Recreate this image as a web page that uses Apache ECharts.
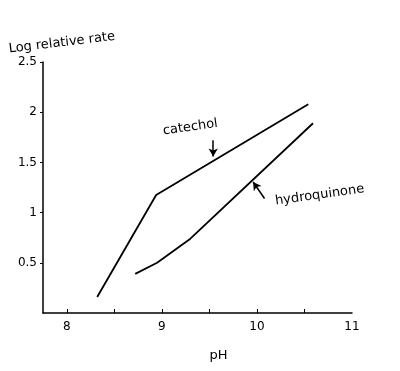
<!DOCTYPE html>
<html>
<head>
<meta charset="utf-8">
<script src="https://cdn.jsdelivr.net/npm/echarts@6/dist/echarts.min.js"></script>
<style>
html,body{margin:0;padding:0;background:#fff;}
#chart{width:400px;height:371px;}
</style>
</head>
<body>
<div id="chart"></div>
<script>
// Data
const catecholPH  = [8.32, 8.94, 10.54];
const catecholLog = [0.16, 1.175, 2.08];
const hydroPH     = [8.72, 8.95, 9.30, 10.59];
const hydroLog    = [0.39, 0.50, 0.74, 1.89];

const xTicks  = [8, 8.5, 9, 9.5, 10, 10.5];
const xLabels = [8, 9, 10, 11];
const yLabels = [0.5, 1, 1.5, 2, 2.5];

// Annotations (data coordinates)
const catecholNote = {text: 'catechol', at: [9.30, 1.85], arrowFrom: [9.54, 1.72], arrowTo: [9.54, 1.56]};
const hydroNote    = {text: 'hydroquinone', at: [10.66, 1.175], arrowFrom: [10.08, 1.14], arrowTo: [9.96, 1.305]};

const font = 'DejaVu Sans';
const pairs = (xs, ys) => xs.map((x, i) => [x, ys[i]]);
const openArrow = 'path://M0,10 L5,0 L10,10 L5,0 Z';

function noteSeries(note, rot) {
  return {
    markPoint: {
      symbol: 'circle', symbolSize: 0, silent: true,
      label: {show: true, position: 'inside', formatter: note.text, rotate: rot,
              color: '#000', fontFamily: font, fontSize: 13},
      data: [{coord: note.at}]
    },
    markLine: {
      silent: true, symbol: ['none', 'arrow'], symbolSize: [7, 8],
      lineStyle: {color: '#000', width: 1.5, type: 'solid'},
      label: {show: false},
      data: [[{coord: note.arrowFrom}, {coord: note.arrowTo}]]
    }
  };
}

const chart = echarts.init(document.getElementById('chart'), null, {renderer: 'canvas'});
chart.setOption({
  backgroundColor: '#fff',
  animation: false,
  grid: {left: 43, right: 48, top: 62, bottom: 58},
  xAxis: {
    type: 'value', min: 7.75, max: 11,
    name: 'pH', nameLocation: 'middle', nameGap: 36,
    nameTextStyle: {color: '#000', fontFamily: font, fontSize: 13, padding: [0, 0, 0, 42]},
    axisLine: {show: true, onZero: false, lineStyle: {color: '#000', width: 1.5}},
    axisTick: {show: true, inside: true, length: 4, customValues: xTicks, lineStyle: {color: '#000', width: 1}},
    axisLabel: {customValues: xLabels, color: '#000', fontFamily: font, fontSize: 12, margin: 8},
    splitLine: {show: false}
  },
  yAxis: {
    type: 'value', min: 0, max: 2.5,
    axisLine: {show: true, onZero: false, lineStyle: {color: '#000', width: 1.5}},
    axisTick: {show: true, length: 3, customValues: yLabels, lineStyle: {color: '#000', width: 1}},
    axisLabel: {customValues: yLabels, color: '#000', fontFamily: font, fontSize: 12, margin: 6},
    splitLine: {show: false}
  },
  graphic: [{
    type: 'text', left: 8, top: 30, rotation: 0.12,
    style: {text: 'Log relative rate', fill: '#000', font: '13px "DejaVu Sans"'}
  }],
  series: [
    Object.assign({
      name: 'catechol', type: 'line', data: pairs(catecholPH, catecholLog),
      showSymbol: false, symbol: 'none',
      lineStyle: {color: '#000', width: 1.8}
    }, noteSeries(catecholNote, 8)),
    Object.assign({
      name: 'hydroquinone', type: 'line', data: pairs(hydroPH, hydroLog),
      showSymbol: false, symbol: 'none',
      lineStyle: {color: '#000', width: 1.8}
    }, noteSeries(hydroNote, 8))
  ]
});
</script>
</body>
</html>
